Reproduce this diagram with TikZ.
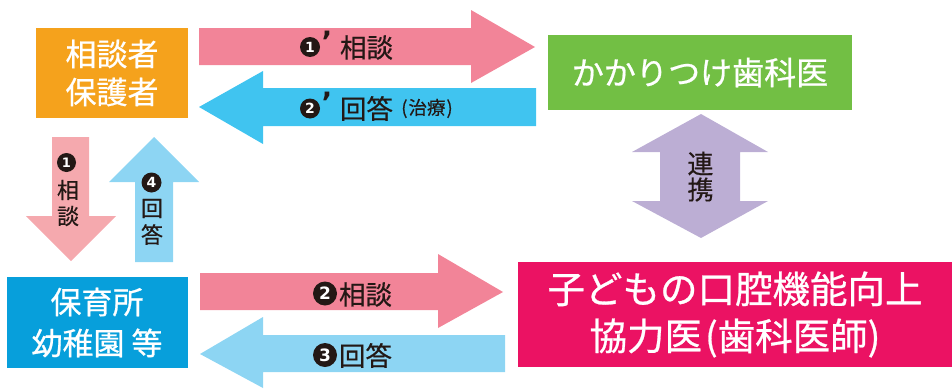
\documentclass[tikz,border=0pt]{standalone}
\usepackage{fontspec}
\newfontfamily\jpf[FakeBold=0.7]{Noto Sans CJK JP}
\newfontfamily\jpl[FakeBold=0.5]{Noto Sans CJK JP}
\newfontfamily\sym{DejaVu Sans}
\definecolor{orangeB}{HTML}{F5A21C}
\definecolor{greenB}{HTML}{72BF44}
\definecolor{blueB}{HTML}{079FDB}
\definecolor{magB}{HTML}{EB1263}
\definecolor{pinkA}{HTML}{F28498}
\definecolor{cyanA}{HTML}{40C4F0}
\definecolor{lpinkA}{HTML}{F5A9AE}
\definecolor{lblueA}{HTML}{8DD5F3}
\definecolor{purpA}{HTML}{BCAED4}
\definecolor{txt}{HTML}{231815}
\begin{document}
\begin{tikzpicture}[x=1pt,y=-1pt]
\tikzset{
  box/.style={inner sep=0pt, align=center, text=white, font=\jpf\fontsize{31}{38}\selectfont},
  lbl/.style={text=txt, inner sep=0pt, font=\jpl\fontsize{26.5}{27}\selectfont},
  vlbl/.style={text=txt, inner sep=0pt, font=\jpl\fontsize{22}{22}\selectfont},
  disc/.style={fill=txt},
  cdig/.style={text=white, inner sep=0pt, font=\sym\bfseries\fontsize{#1}{#1}\selectfont},
  prime/.style={text=txt, inner sep=0pt, font=\sym\bfseries\fontsize{28}{28}\selectfont}
}
\useasboundingbox (0,0) rectangle (952,388);
% boxes
\node[box, fill=orangeB, minimum width=152pt, minimum height=90pt] (guard) at (112,73) {相談者\\保護者};
\node[box, fill=greenB, minimum width=304pt, minimum height=75pt, font=\jpf\fontsize{32}{38}\selectfont] (dent) at (700,72.5) {かかりつけ歯科医};
\node[box, fill=blueB, minimum width=181pt, minimum height=91pt, font=\jpf\fontsize{31}{41}\selectfont] (school) at (97,322.5) {保育所\\幼稚園 等};
\node[box, fill=magB, minimum width=434pt, minimum height=105pt, font=\jpf\fontsize{37.5}{47}\selectfont] (coop) at (735,314.5) {子どもの口腔機能向上\\協力医\hspace{3pt}(歯科医師)};
% block arrows
\fill[pinkA] (199,28) -- (471,28) -- (471,10) -- (535,47) -- (471,83) -- (471,65) -- (199,65) -- cycle;
\fill[cyanA] (536,88) -- (263,88) -- (263,71) -- (199,107) -- (263,144) -- (263,126) -- (536,126) -- cycle;
\fill[purpA] (701,114) -- (768,152) -- (740,152) -- (740,201) -- (768,201) -- (701,238) -- (632,201) -- (660,201) -- (660,152) -- (632,152) -- cycle;
\fill[lpinkA] (52,137) -- (89,137) -- (89,216) -- (116,216) -- (71,261) -- (26,216) -- (52,216) -- cycle;
\fill[lblueA] (154,137) -- (199,182) -- (173,182) -- (173,262) -- (135,262) -- (135,182) -- (109,182) -- cycle;
\fill[pinkA] (200,273) -- (438,273) -- (438,254) -- (503,292) -- (438,328) -- (438,310) -- (200,310) -- cycle;
\fill[lblueA] (505,335) -- (263,335) -- (263,317) -- (200,354) -- (263,388) -- (263,372) -- (505,372) -- cycle;
% number discs
\coordinate (c1a) at (310,47);
\coordinate (c2a) at (310,108.5);
\coordinate (c1b) at (66.5,162.5);
\coordinate (c4) at (151.5,182.5);
\coordinate (c2b) at (325,293.5);
\coordinate (c3) at (325,355);
\fill[disc] (c1a) circle[radius=10pt];
\fill[disc] (c2a) circle[radius=10pt];
\fill[disc] (c1b) circle[radius=9.5pt];
\fill[disc] (c4) circle[radius=10pt];
\fill[disc] (c2b) circle[radius=12pt];
\fill[disc] (c3) circle[radius=12pt];
\node[cdig=14] (n1a) at (c1a) {1};
\node[cdig=14] (n2a) at (c2a) {2};
\node[cdig=13] (n1b) at (c1b) {1};
\node[cdig=14] (n4) at (c4) {4};
\node[cdig=17] (n2b) at (c2b) {2};
\node[cdig=17] (n3) at (c3) {3};
% labels: top arrows
\node[prime] (p1) at (327,41) {’};
\node[lbl] (t1) at (366.5,47.5) {相談};
\node[prime] (p2) at (327,102.5) {’};
\node[lbl] (t2) at (366.5,108.5) {回答};
\node[lbl, font=\jpl\fontsize{18.5}{19}\selectfont] (t2b) at (427,108.5) {(\hspace{1pt}治療\hspace{1pt})};
% vertical arrows
\node[vlbl] (v1) at (68,190) {相};
\node[vlbl] (v2) at (68,216) {談};
\node[vlbl] (v3) at (152,208.5) {回};
\node[vlbl] (v4) at (152,234.5) {答};
\node[vlbl, font=\jpl\fontsize{26}{26}\selectfont] (v5) at (700.5,163.5) {連};
\node[vlbl, font=\jpl\fontsize{26}{26}\selectfont] (v6) at (700.5,189.5) {携};
% bottom arrows
\node[lbl] (t3) at (365.5,294.5) {相談};
\node[lbl] (t4) at (365.5,355.5) {回答};
\end{tikzpicture}
\end{document}
